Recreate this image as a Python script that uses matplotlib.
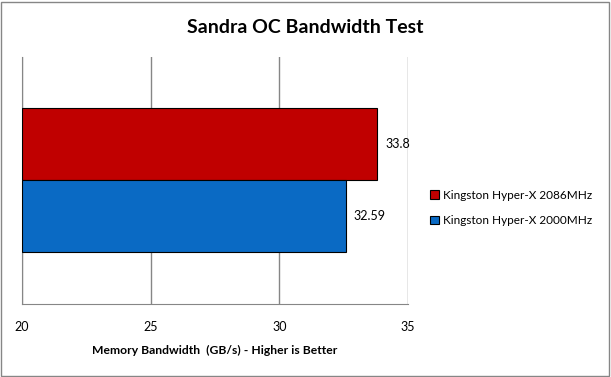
import matplotlib.pyplot as plt
from matplotlib.patches import Rectangle

series = ['Kingston Hyper-X 2086MHz', 'Kingston Hyper-X 2000MHz']
values = [33.8, 32.59]
labels = ['33.8', '32.59']
colors = ['#C00000', '#0A6AC4']

plt.rcParams['font.family'] = ['Lato', 'DejaVu Sans']

fig = plt.figure(figsize=(6.11, 3.77), dpi=100)
ax = fig.add_axes([0.036, 0.194, 0.632, 0.655])

ypos = [0.648, 0.356]
for y, v, c, s in zip(ypos, values, colors, series):
    ax.barh(y, v - 20, left=20, height=0.292, color=c, edgecolor='black',
            linewidth=0.8, label=s, zorder=3)

for y, v, t in zip(ypos, values, labels):
    ax.text(v + 0.3, y, t, va='center', ha='left', fontsize=9)

ax.set_xlim(20, 35)
ax.set_ylim(0, 1)
ax.set_xticks([20, 25, 30, 35])
ax.set_yticks([])
ax.grid(axis='x', color='#868686', linewidth=1, zorder=0)
for sp in ['top', 'right']:
    ax.spines[sp].set_visible(False)
ax.spines['left'].set_color('#868686')
ax.spines['bottom'].set_color('#868686')
ax.tick_params(axis='x', length=0, labelsize=9, pad=12)
ax.set_xlabel('Memory Bandwidth  (GB/s) - Higher is Better', fontsize=8.7,
              fontweight='bold', labelpad=9)

fig.text(0.5, 0.928, 'Sandra OC Bandwidth Test', ha='center', va='center',
         fontsize=14, fontweight='bold')

ax.legend(loc='center left', bbox_to_anchor=(1.03, 0.389), frameon=False,
          fontsize=8.5, handlelength=0.7, handleheight=0.7, handletextpad=0.4,
          labelspacing=1.2)

fig.patches.append(Rectangle((0.002, 0.003), 0.995, 0.993, transform=fig.transFigure,
                             fill=False, edgecolor='#868686', linewidth=1))

fig.savefig('out.png', dpi=100)
